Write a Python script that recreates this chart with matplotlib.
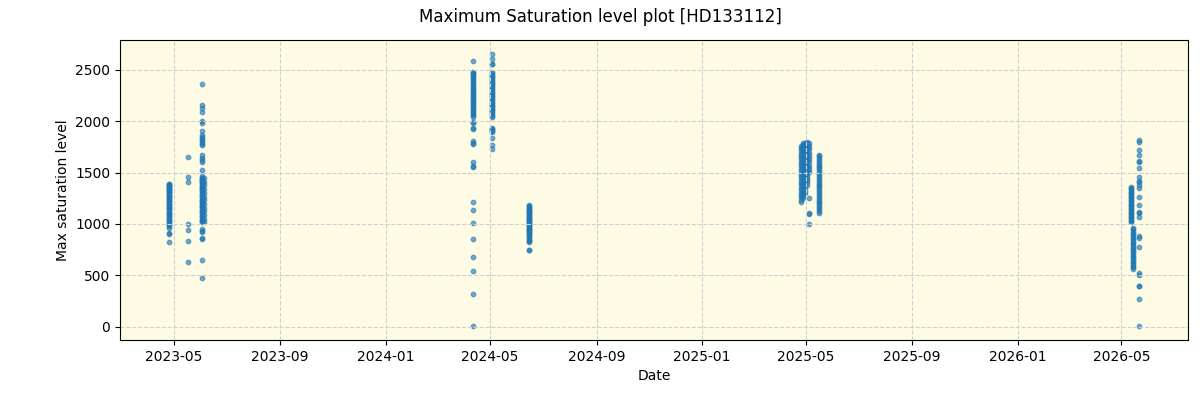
import matplotlib
matplotlib.use("Agg")
import matplotlib.pyplot as plt
import pandas as pd

# observation nights and the saturation levels read on each
nights = [
    "2023-04-25", "2023-05-17", "2023-06-03", "2023-06-05",
    "2024-04-11", "2024-05-03", "2024-06-15",
    "2025-04-26", "2025-04-28", "2025-04-30", "2025-05-02", "2025-05-05",
    "2025-05-16",
    "2026-05-12", "2026-05-15", "2026-05-22",
]

levels = [
    [1392, 1385, 1378, 1371, 1366, 1358, 1350, 1344, 1337, 1329, 1318, 1310, 1301, 1296,
     1284, 1275, 1268, 1259, 1247, 1238, 1226, 1219, 1207, 1196, 1188, 1176, 1165, 1153,
     1141, 1132, 1120, 1108, 1097, 1085, 1072, 1063, 1049, 1038, 1026, 1014, 1003, 991,
     978, 962, 915, 904, 828],
    [1648, 1452, 1410, 995, 941, 838, 633],
    [2364, 2162, 2128, 2085, 2003, 1985, 1908, 1870, 1848, 1826, 1812, 1795, 1780, 1772,
     1668, 1646, 1622, 1607, 1528, 1462, 1448, 1441, 1433, 1425, 1418, 1406, 1397, 1385,
     1372, 1364, 1351, 1340, 1328, 1317, 1305, 1294, 1281, 1270, 1258, 1246, 1233, 1222,
     1210, 1199, 1186, 1174, 1162, 1150, 1139, 1127, 1115, 1103, 1090, 1078, 1066, 1052,
     1040, 1027, 1015, 946, 918, 932, 850, 862, 652, 478],
    [1450, 1412, 1377, 1342, 1301, 1262, 1231, 1193, 1158, 1121, 1084, 1049, 1021],
    [2581, 2482, 2468, 2455, 2440, 2426, 2411, 2397, 2380, 2366, 2352, 2337, 2321, 2305,
     2292, 2276, 2262, 2248, 2231, 2217, 2203, 2188, 2174, 2160, 2146, 2131, 2116, 2101,
     2088, 2072, 2058, 2044, 1987, 1982, 1925, 1930, 1802, 1785, 1773, 1606, 1560, 1550,
     1217, 1138, 1012, 856, 681, 545, 321, 8],
    [2657, 2608, 2560, 2552, 2479, 2466, 2452, 2440, 2425, 2410, 2398, 2384, 2370, 2357,
     2341, 2329, 2314, 2300, 2287, 2272, 2258, 2246, 2231, 2218, 2204, 2190, 2177, 2162,
     2148, 2135, 2120, 2107, 2094, 2080, 2066, 2052, 2044, 1936, 1926, 1912, 1901, 1895,
     1838, 1771, 1731],
    [1183, 1172, 1160, 1151, 1140, 1131, 1122, 1112, 1103, 1094, 1085, 1076, 1068, 1060,
     1051, 1042, 1034, 1025, 1016, 1007, 998, 989, 981, 972, 963, 954, 945, 936, 927, 918,
     909, 900, 891, 882, 870, 858, 846, 834, 828, 748, 742],
    [1762, 1740, 1718, 1694, 1671, 1650, 1628, 1605, 1583, 1560, 1536, 1514, 1490, 1468,
     1445, 1421, 1398, 1376, 1352, 1330, 1305, 1282, 1258, 1236, 1212],
    [1785, 1768, 1749, 1731, 1712, 1690, 1668, 1647, 1622, 1600, 1577, 1553, 1531, 1507,
     1482, 1460, 1437, 1412, 1390, 1365, 1342, 1318, 1296, 1271, 1249],
    [1792, 1774, 1755, 1737, 1716, 1695, 1673, 1651, 1629, 1604, 1581, 1557, 1534, 1512,
     1487, 1463, 1440, 1418, 1395, 1372, 1348, 1325, 1302],
    [1798, 1781, 1760, 1742, 1720, 1698, 1676, 1654, 1631, 1609, 1586, 1563, 1540, 1518,
     1495, 1472, 1449, 1426, 1403, 1380],
    [1788, 1757, 1726, 1694, 1663, 1632, 1601, 1568, 1536, 1503, 1255, 1092, 1110, 1001],
    [1673, 1660, 1641, 1622, 1603, 1586, 1568, 1549, 1530, 1512, 1494, 1476, 1457, 1438,
     1420, 1401, 1383, 1366, 1347, 1328, 1310, 1292, 1273, 1255, 1236, 1217, 1199, 1180,
     1162, 1141, 1122, 1109],
    [1362, 1349, 1337, 1325, 1312, 1299, 1287, 1274, 1261, 1248, 1235, 1223, 1210, 1197,
     1184, 1170, 1158, 1146, 1133, 1120, 1108, 1094, 1081, 1068, 1055, 1041, 1028, 1021],
    [963, 948, 931, 915, 899, 882, 866, 850, 834, 818, 802, 786, 770, 754, 738, 722, 706,
     690, 674, 658, 642, 626, 610, 594, 578, 561],
    [1820, 1801, 1722, 1673, 1612, 1605, 1547, 1452, 1421, 1410, 1383, 1352, 1265, 1187,
     1109, 1120, 1070, 880, 866, 778, 525, 500, 400, 395, 272, 3],
]

dates = []
values = []
for night, vals in zip(nights, levels):
    dates += [night] * len(vals)
    values += vals
dates = pd.to_datetime(dates)

fig, ax = plt.subplots(figsize=(12, 4), dpi=100)
fig.subplots_adjust(left=0.1, right=0.99, top=0.9, bottom=0.15)
ax.set_facecolor('#fdfbe3')
ax.scatter(dates, values, s=10, alpha=0.6, color='tab:blue')
ax.grid(True, linestyle='--', color='#cfcfd6')
ax.set_xlabel("Date")
ax.set_ylabel("Max saturation level")
fig.suptitle("Maximum Saturation level plot [HD133112]")
fig.savefig("out.png")
